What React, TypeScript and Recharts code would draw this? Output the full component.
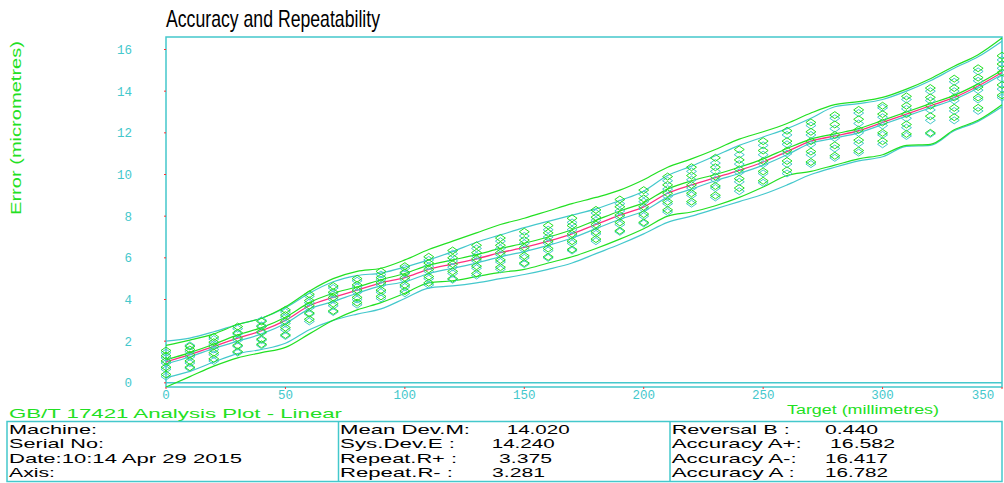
import React from "react";
import {
  ComposedChart,
  Line,
  Scatter,
  XAxis,
  YAxis,
  ReferenceArea,
  ReferenceLine,
} from "recharts";

// target positions (mm)
const positions = [
  0, 10, 20, 30, 40, 50, 60, 70, 80, 90, 100, 110, 120, 130, 140, 150, 160, 170,
  180, 190, 200, 210, 220, 230, 240, 250, 260, 270, 280, 290, 300, 310, 320, 330,
  340, 350,
];

// overall mean deviation (magenta)
const meanAll = [
  1.0, 1.35, 1.75, 2.15, 2.5, 3.0, 3.7, 4.1, 4.45, 4.8, 5.05, 5.45, 5.7, 5.95,
  6.25, 6.5, 6.8, 7.15, 7.6, 8.05, 8.45, 9.1, 9.5, 9.85, 10.2, 10.6, 11.1, 11.6,
  11.85, 12.1, 12.5, 12.9, 13.3, 13.7, 14.25, 14.9,
];
// forward (green) and reverse (cyan) means
const meanFwd = [
  1.1, 1.45, 1.85, 2.3, 2.65, 3.15, 3.85, 4.3, 4.6, 4.95, 5.25, 5.65, 5.9, 6.15,
  6.45, 6.7, 7.0, 7.35, 7.8, 8.25, 8.65, 9.3, 9.7, 10.0, 10.35, 10.75, 11.25,
  11.7, 11.95, 12.2, 12.6, 13.0, 13.4, 13.8, 14.35, 15.0,
];
const meanRev = [
  0.9, 1.25, 1.65, 2.0, 2.35, 2.85, 3.55, 3.9, 4.3, 4.65, 4.85, 5.25, 5.5, 5.75,
  6.05, 6.3, 6.6, 6.95, 7.4, 7.85, 8.25, 8.9, 9.3, 9.7, 10.05, 10.45, 10.95, 11.5,
  11.75, 12.0, 12.4, 12.8, 13.2, 13.6, 14.15, 14.8,
];
// +/- 2s bands
const upperFwd = [
  1.8, 2.05, 2.35, 2.8, 3.1, 3.65, 4.4, 5.0, 5.35, 5.5, 5.9, 6.4, 6.8, 7.2, 7.6,
  7.9, 8.25, 8.6, 8.9, 9.25, 9.75, 10.35, 10.75, 11.2, 11.7, 12.05, 12.45, 12.95,
  13.35, 13.5, 13.7, 14.1, 14.6, 15.2, 15.75, 16.55,
];
const upperRev = [
  2.0, 2.15, 2.45, 2.8, 3.1, 3.6, 4.3, 4.85, 5.15, 5.27, 5.55, 5.9, 6.3, 6.75,
  7.1, 7.45, 7.75, 8.05, 8.35, 8.75, 9.2, 9.95, 10.4, 10.9, 11.4, 11.8, 12.2,
  12.7, 13.25, 13.4, 13.6, 14.0, 14.5, 15.1, 15.65, 16.4,
];
const lowerFwd = [
  -0.2, 0.3, 0.8, 1.2, 1.45, 1.7, 2.35, 3.0, 3.5, 3.85, 4.3, 4.8, 4.9, 5.1, 5.3,
  5.45, 5.75, 6.05, 6.45, 6.9, 7.4, 8.0, 8.2, 8.5, 8.9, 9.4, 9.95, 10.15, 10.45,
  10.75, 10.95, 11.4, 11.45, 12.15, 12.6, 13.35,
];
const lowerRev = [
  0.25, 0.55, 1.0, 1.4, 1.6, 1.9, 2.55, 3.0, 3.3, 3.55, 4.05, 4.55, 4.65, 4.8,
  5.0, 5.2, 5.45, 5.75, 6.2, 6.65, 7.15, 7.7, 8.0, 8.35, 8.7, 9.05, 9.5, 10.0,
  10.35, 10.65, 10.85, 11.35, 11.4, 12.1, 12.55, 13.25,
];

// individual runs, forward
const fwd1 = [
  1.55, 1.75, 2.2, 2.7, 2.95, 3.5, 4.25, 4.65, 5.0, 5.35, 5.6, 6.05, 6.35, 6.6,
  6.95, 7.25, 7.55, 7.9, 8.3, 8.8, 9.25, 9.9, 10.35, 10.8, 11.2, 11.6, 12.1, 12.5,
  12.85, 13.1, 13.3, 13.75, 14.15, 14.6, 15.1, 15.7,
];
const fwd2 = [
  1.3, 1.6, 1.95, 2.4, 2.7, 3.25, 3.95, 4.35, 4.7, 5.05, 5.3, 5.75, 6.0, 6.25,
  6.6, 6.85, 7.2, 7.55, 7.95, 8.45, 8.85, 9.5, 9.95, 10.35, 10.7, 11.15, 11.6,
  12.05, 12.4, 12.65, 12.9, 13.3, 13.7, 14.15, 14.65, 15.3,
];
const fwd3 = [
  1.05, 1.35, 1.75, 2.15, 2.45, 2.95, 3.7, 4.1, 4.45, 4.8, 5.05, 5.45, 5.7, 5.95,
  6.25, 6.5, 6.8, 7.15, 7.6, 8.05, 8.45, 9.1, 9.5, 9.9, 10.25, 10.65, 11.15, 11.6,
  11.9, 12.15, 12.5, 12.9, 13.3, 13.7, 14.2, 14.9,
];
const fwd4 = [
  0.75, 1.05, 1.45, 1.8, 2.1, 2.65, 3.35, 3.8, 4.1, 4.45, 4.7, 5.1, 5.35, 5.6,
  5.9, 6.1, 6.45, 6.8, 7.25, 7.7, 8.1, 8.7, 9.1, 9.45, 9.8, 10.15, 10.65, 11.1,
  11.4, 11.65, 12.0, 12.4, 12.8, 13.2, 13.7, 14.3,
];
const fwd5 = [
  0.4, 0.75, 1.15, 1.5, 1.85, 2.3, 3.05, 3.45, 3.85, 4.15, 4.4, 4.8, 5.0, 5.25,
  5.55, 5.75, 6.05, 6.4, 6.9, 7.3, 7.7, 8.3, 8.7, 9.0, 9.35, 9.7, 10.2, 10.6,
  10.9, 11.15, 11.6, 11.95, 12.0, 12.75, 13.2, 13.8,
];
// individual runs, reverse
const rev1 = [
  1.45, 1.8, 2.1, 2.6, 3.0, 3.4, 4.15, 4.55, 4.9, 5.2, 5.5, 5.9, 6.2, 6.45, 6.8,
  7.05, 7.35, 7.7, 8.15, 8.6, 9.05, 9.7, 10.15, 10.55, 10.95, 11.4, 11.9, 12.35,
  12.7, 12.95, 13.2, 13.6, 14.0, 14.45, 14.95, 15.5,
];
const rev2 = [
  1.2, 1.5, 1.85, 2.35, 2.75, 3.15, 3.85, 4.25, 4.6, 4.95, 5.25, 5.6, 5.85, 6.1,
  6.45, 6.7, 7.0, 7.35, 7.8, 8.25, 8.7, 9.3, 9.75, 10.15, 10.5, 10.95, 11.45,
  11.9, 12.2, 12.45, 12.75, 13.15, 13.55, 14.0, 14.5, 15.1,
];
const rev3 = [
  0.95, 1.25, 1.6, 2.05, 2.4, 2.85, 3.6, 4.0, 4.35, 4.7, 4.95, 5.35, 5.55, 5.85,
  6.15, 6.4, 6.7, 7.05, 7.5, 7.95, 8.35, 8.95, 9.35, 9.75, 10.1, 10.5, 11.0,
  11.45, 11.75, 12.0, 12.35, 12.7, 13.1, 13.55, 14.05, 14.6,
];
const rev4 = [
  0.65, 0.95, 1.35, 1.75, 2.05, 2.55, 3.3, 3.7, 4.0, 4.35, 4.6, 5.0, 5.25, 5.5,
  5.8, 6.0, 6.35, 6.7, 7.15, 7.6, 8.0, 8.6, 9.0, 9.35, 9.65, 10.05, 10.5, 10.95,
  11.25, 11.5, 11.9, 12.25, 12.6, 13.05, 13.6, 14.1,
];
const rev5 = [
  0.3, 0.7, 1.05, 1.45, 1.8, 2.25, 2.95, 3.4, 3.75, 4.05, 4.3, 4.7, 4.95, 5.15,
  5.45, 5.7, 6.0, 6.35, 6.8, 7.25, 7.65, 8.2, 8.6, 8.9, 9.2, 9.6, 10.05, 10.5,
  10.8, 11.05, 11.45, 11.85, 11.95, 12.6, 13.05, 13.7,
];

const xTicks = [0, 50, 100, 150, 200, 250, 300, 350];
const yTicks = [0, 2, 4, 6, 8, 10, 12, 14, 16];

const tableLeft = ["Machine:", "Serial No:", "Date:10:14 Apr 29 2015", "Axis:"];
const tableMidLabels = ["Mean Dev.M:", "Sys.Dev.E :", "Repeat.R+ :", "Repeat.R- :"];
const tableMidValues = ["14.020", "14.240", "3.375", "3.281"];
const tableRightLabels = ["Reversal B :", "Accuracy A+:", "Accuracy A-:", "Accuracy A :"];
const tableRightValues = ["0.440", "16.582", "16.417", "16.782"];

const rows = positions.map((x, i) => ({
  x,
  mean: meanAll[i],
  mF: meanFwd[i],
  mR: meanRev[i],
  uF: upperFwd[i],
  uR: upperRev[i],
  lF: lowerFwd[i],
  lR: lowerRev[i],
  f1: fwd1[i],
  f2: fwd2[i],
  f3: fwd3[i],
  f4: fwd4[i],
  f5: fwd5[i],
  r1: rev1[i],
  r2: rev2[i],
  r3: rev3[i],
  r4: rev4[i],
  r5: rev5[i],
}));

const GREEN = "#22e022";
const CYAN = "#44c8cc";
const MAGENTA = "#ff2f7f";
const MONO = "'Liberation Mono', 'DejaVu Sans Mono', monospace";
const SANS = "'Liberation Sans', Arial, sans-serif";

function diamond(color: string) {
  return (props: any) => {
    const { cx, cy } = props;
    if (cx == null || cy == null) return <g />;
    return (
      <path
        d={`M${cx - 5},${cy}L${cx},${cy - 3.5}L${cx + 5},${cy}L${cx},${cy + 3.5}Z`}
        fill="none"
        stroke={color}
        strokeWidth={1}
      />
    );
  };
}

function XTick({ x, y, payload }: any) {
  const last = payload.value === 350;
  return (
    <text
      x={last ? x - 19 : x}
      y={y}
      dy={8}
      textAnchor="middle"
      fill={CYAN}
      fontSize={12.5}
      fontFamily={MONO}
    >
      {payload.value}
    </text>
  );
}

const baselines = [433.5, 448, 462.5, 477];
const leftLens = [88, 95, 233, 46];
const midLabelLens = [130, 115, 117, 113];
const midValX = [506.7, 491.7, 499, 492];
const midValLens = [63, 63, 53, 53];
const rightLabelLens = [118, 130, 125, 123];
const rightValX = [825, 830, 825, 825];
const rightValLens = [53, 65, 63, 63];

export default function App() {
  const revKeys = ["r1", "r2", "r3", "r4", "r5"];
  const fwdKeys = ["f1", "f2", "f3", "f4", "f5"];
  return (
    <div
      style={{
        position: "absolute",
        left: 0,
        top: 0,
        width: 1004,
        height: 483,
        background: "#fff",
        overflow: "hidden",
      }}
    >
      <div style={{ position: "absolute", left: 0, top: 0 }}>
        <ComposedChart
          width={1004}
          height={420}
          data={rows}
          margin={{ top: 37, right: 2, bottom: 13, left: 106 }}
        >
          <XAxis
            dataKey="x"
            type="number"
            domain={[0, 350]}
            ticks={xTicks}
            axisLine={false}
            tickLine={{ stroke: "#ff3030" }}
            tickSize={2}
            tickMargin={2}
            height={20}
            tick={<XTick />}
            interval={0}
          />
          <YAxis
            type="number"
            domain={[-0.2, 16.6]}
            ticks={yTicks}
            allowDataOverflow
            axisLine={false}
            tickLine={{ stroke: "#ff3030" }}
            tickSize={2}
            tickMargin={32}
            width={60}
            interval={0}
            tick={{ fill: CYAN, fontSize: 12.5, fontFamily: MONO }}
          />
          <ReferenceArea
            x1={0}
            x2={350}
            y1={-0.2}
            y2={16.6}
            fill="none"
            stroke={CYAN}
            strokeWidth={1.5}
            ifOverflow="visible"
          />
          <ReferenceLine y={0} stroke={CYAN} strokeWidth={1.5} />
          {revKeys.map((k) => (
            <Scatter
              key={k}
              dataKey={k}
              shape={diamond(CYAN)}
              isAnimationActive={false}
            />
          ))}
          {fwdKeys.map((k) => (
            <Scatter
              key={k}
              dataKey={k}
              shape={diamond(GREEN)}
              isAnimationActive={false}
            />
          ))}
          <Line type="monotone" dataKey="uR" stroke={CYAN} strokeWidth={1.2} dot={false} isAnimationActive={false} />
          <Line type="monotone" dataKey="lR" stroke={CYAN} strokeWidth={1.2} dot={false} isAnimationActive={false} />
          <Line type="monotone" dataKey="mR" stroke={CYAN} strokeWidth={1.2} dot={false} isAnimationActive={false} />
          <Line type="monotone" dataKey="uF" stroke={GREEN} strokeWidth={1.2} dot={false} isAnimationActive={false} />
          <Line type="monotone" dataKey="lF" stroke={GREEN} strokeWidth={1.2} dot={false} isAnimationActive={false} />
          <Line type="monotone" dataKey="mF" stroke={GREEN} strokeWidth={1.2} dot={false} isAnimationActive={false} />
          <Line type="monotone" dataKey="mean" stroke={MAGENTA} strokeWidth={1.3} dot={false} isAnimationActive={false} />
        </ComposedChart>
      </div>
      <svg
        width={1004}
        height={483}
        style={{ position: "absolute", left: 0, top: 0, pointerEvents: "none" }}
      >
        <text
          x={166}
          y={27}
          fontSize={24}
          fontFamily={SANS}
          fill="#000"
          textLength={214}
          lengthAdjust="spacingAndGlyphs"
        >
          Accuracy and Repeatability
        </text>
        <text
          transform="translate(21,128) rotate(-90)"
          textAnchor="middle"
          fontSize={15}
          fontFamily={SANS}
          fill={GREEN}
          textLength={174}
          lengthAdjust="spacingAndGlyphs"
        >
          Error (micrometres)
        </text>
        <text
          x={787}
          y={413.5}
          fontSize={12.5}
          fontFamily={SANS}
          fill={GREEN}
          textLength={152}
          lengthAdjust="spacingAndGlyphs"
        >
          Target (millimetres)
        </text>
        <text
          x={9}
          y={418}
          fontSize={13}
          fontFamily={SANS}
          fill={GREEN}
          textLength={333}
          lengthAdjust="spacingAndGlyphs"
        >
          GB/T 17421 Analysis Plot - Linear
        </text>
        <rect x={7} y={421.5} width={995} height={60} fill="none" stroke={CYAN} strokeWidth={1.5} />
        <line x1={338.5} y1={421.5} x2={338.5} y2={481.5} stroke={CYAN} strokeWidth={1.5} />
        <line x1={670} y1={421.5} x2={670} y2={481.5} stroke={CYAN} strokeWidth={1.5} />
        {baselines.map((b, i) => (
          <g key={i} fontSize={13} fontFamily={SANS} fill="#000">
            <text x={9} y={b} textLength={leftLens[i]} lengthAdjust="spacingAndGlyphs">
              {tableLeft[i]}
            </text>
            <text x={340} y={b} textLength={midLabelLens[i]} lengthAdjust="spacingAndGlyphs">
              {tableMidLabels[i]}
            </text>
            <text x={midValX[i]} y={b} textLength={midValLens[i]} lengthAdjust="spacingAndGlyphs">
              {tableMidValues[i]}
            </text>
            <text x={671.7} y={b} textLength={rightLabelLens[i]} lengthAdjust="spacingAndGlyphs">
              {tableRightLabels[i]}
            </text>
            <text x={rightValX[i]} y={b} textLength={rightValLens[i]} lengthAdjust="spacingAndGlyphs">
              {tableRightValues[i]}
            </text>
          </g>
        ))}
      </svg>
    </div>
  );
}
